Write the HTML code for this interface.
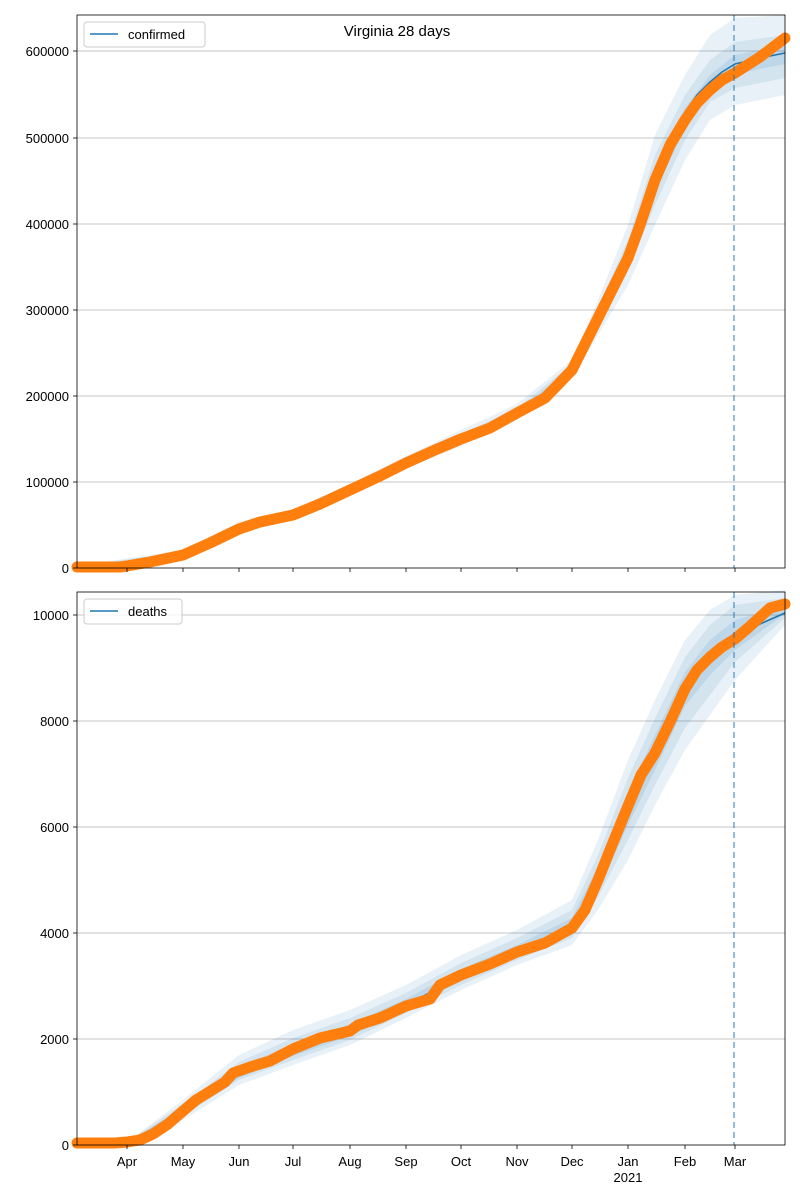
<!DOCTYPE html>
<html><head><meta charset="utf-8"><style>
body{margin:0;background:#fff}
svg{display:block;font-family:"Liberation Sans",sans-serif}
</style></head><body>
<svg width="800" height="1200" viewBox="0 0 800 1200" xmlns="http://www.w3.org/2000/svg">
<rect width="800" height="1200" fill="#fff"/>
<!-- TOP -->
<g stroke="#b0b0b0" stroke-width="0.8">
<line x1="77" x2="785" y1="482" y2="482"/><line x1="77" x2="785" y1="396" y2="396"/>
<line x1="77" x2="785" y1="310" y2="310"/><line x1="77" x2="785" y1="224" y2="224"/>
<line x1="77" x2="785" y1="138" y2="138"/><line x1="77" x2="785" y1="51" y2="51"/>
</g>
<polygon fill="#1f77b4" fill-opacity="0.1" points="77,566 183,550 239,522 293,509 350,484 406,456 461,430 517,404 572,360 598,300 628,225 655,135 685,75 710,35 735,18 785,15 785,95 735,105 710,120 685,160 655,225 628,285 598,335 572,378 517,420 461,446 406,468 350,495 293,520 239,532 183,560 77,568"/>
<polygon fill="#1f77b4" fill-opacity="0.1" points="77,566 183,552 239,524 293,511 350,486 406,459 461,434 517,408 572,364 598,307 628,240 655,155 685,95 710,60 735,42 785,35 785,78 735,88 710,102 685,140 655,205 628,270 598,326 572,374 517,417 461,443 406,466 350,493 293,518 239,530 183,558 77,568"/>
<polygon fill="#1f77b4" fill-opacity="0.12" points="77,566 183,554 239,526 293,513 350,488 406,461 461,437 517,411 572,367 598,313 628,250 655,168 685,108 710,75 735,55 785,45 785,64 735,74 710,90 685,128 655,192 628,262 598,321 572,372 517,415 461,441 406,464 350,491 293,516 239,528 183,556 77,568"/>
<polyline fill="none" stroke="#1f77b4" stroke-width="1.6" points="77,567 120,567 127,566 150,562 183,555 210,543 239,529 260,522 293,515 320,504 350,490 380,476 406,463 435,450 461,439 490,428 517,413 545,398 572,369 598,316 628,252 640,220 655,172 670,138 685,112 697,95 710,82 722,72 735,64 760,58 785,53"/>
<polyline fill="none" stroke="#ff7f0e" stroke-width="11" stroke-linecap="round" stroke-linejoin="round" points="77,567 120,567 127,566 150,562 183,555 210,543 239,529 260,522 293,515 320,504 350,490 380,476 406,463 435,450 461,439 490,428 517,413 545,398 572,370 598,318 628,258 640,225 655,180 670,145 685,120 697,103 710,90 722,80 735,73 760,57 785,38"/>
<line x1="734" x2="734" y1="15" y2="568" stroke="#1f77b4" stroke-opacity="0.6" stroke-width="1.6" stroke-dasharray="6,4"/>
<rect x="77" y="15" width="708" height="553" fill="none" stroke="#000" stroke-width="0.8"/>
<g font-size="13" text-anchor="end" fill="#000">
<text x="69" y="573">0</text><text x="69" y="487">100000</text><text x="69" y="401">200000</text>
<text x="69" y="315">300000</text><text x="69" y="229">400000</text><text x="69" y="143">500000</text><text x="69" y="56">600000</text>
</g>
<g stroke="#000" stroke-width="0.8">
<line x1="73" x2="77" y1="568" y2="568"/><line x1="73" x2="77" y1="482" y2="482"/><line x1="73" x2="77" y1="396" y2="396"/><line x1="73" x2="77" y1="310" y2="310"/><line x1="73" x2="77" y1="224" y2="224"/><line x1="73" x2="77" y1="138" y2="138"/><line x1="73" x2="77" y1="51" y2="51"/>
</g>
<text x="397" y="36" font-size="15" text-anchor="middle">Virginia 28 days</text>
<rect x="84" y="22" width="121" height="25" fill="#fff" fill-opacity="0.8" stroke="#ccc" rx="3"/>
<line x1="90" x2="118" y1="34" y2="34" stroke="#1f77b4" stroke-width="1.6"/>
<text x="128" y="39" font-size="13">confirmed</text>

<!-- BOTTOM -->
<g stroke="#b0b0b0" stroke-width="0.8">
<line x1="77" x2="785" y1="1039" y2="1039"/><line x1="77" x2="785" y1="933" y2="933"/>
<line x1="77" x2="785" y1="827" y2="827"/><line x1="77" x2="785" y1="721" y2="721"/><line x1="77" x2="785" y1="615" y2="615"/>
</g>
<polygon fill="#1f77b4" fill-opacity="0.1" points="77,1144 127,1142 183,1100 239,1055 293,1030 350,1010 406,985 461,955 517,930 572,900 598,840 628,760 655,700 685,640 710,610 735,595 785,590 785,625 735,680 710,715 685,750 655,805 628,860 598,910 572,945 517,965 461,990 406,1018 350,1045 293,1065 239,1085 183,1120 127,1144 77,1145"/>
<polygon fill="#1f77b4" fill-opacity="0.1" points="77,1144 127,1142 183,1104 239,1062 293,1038 350,1018 406,993 461,963 517,938 572,910 598,855 628,778 655,718 685,657 710,625 735,605 785,598 785,618 735,662 710,695 685,728 655,785 628,840 598,897 572,938 517,960 461,985 406,1013 350,1040 293,1060 239,1080 183,1116 127,1144 77,1145"/>
<polygon fill="#1f77b4" fill-opacity="0.12" points="77,1144 127,1143 183,1107 239,1067 293,1044 350,1024 406,999 461,969 517,945 572,918 598,866 628,792 655,735 685,672 710,640 735,620 785,606 785,614 735,650 710,675 685,706 655,770 628,825 598,890 572,935 517,957 461,980 406,1010 350,1036 293,1056 239,1078 183,1114 127,1144 77,1145"/>
<polyline fill="none" stroke="#1f77b4" stroke-width="1.6" points="77,1143 127,1142 153,1134 183,1111 209,1092 239,1073 293,1050 350,1031 406,1006 461,975 517,952 572,928 598,880 628,806 655,753 685,689 710,657 735,640 760,624 785,613"/>
<polyline fill="none" stroke="#ff7f0e" stroke-width="11" stroke-linecap="round" stroke-linejoin="round" points="77,1143 115,1143 127,1142 140,1140 153,1134 168,1124 183,1111 196,1100 209,1092 225,1082 233,1073 250,1067 270,1061 293,1049 320,1038 350,1031 358,1025 380,1018 406,1006 430,999 440,985 461,975 490,964 517,952 545,943 572,928 585,910 598,880 612,845 628,806 641,775 655,753 670,722 685,689 697,670 710,657 722,647 735,639 748,628 760,617 770,608 785,604"/>
<line x1="734" x2="734" y1="592" y2="1145" stroke="#1f77b4" stroke-opacity="0.6" stroke-width="1.6" stroke-dasharray="6,4"/>
<rect x="77" y="592" width="708" height="553" fill="none" stroke="#000" stroke-width="0.8"/>
<g font-size="13" text-anchor="end">
<text x="69" y="1150">0</text><text x="69" y="1044">2000</text><text x="69" y="938">4000</text>
<text x="69" y="832">6000</text><text x="69" y="726">8000</text><text x="69" y="620">10000</text>
</g>
<g stroke="#000" stroke-width="0.8">
<line x1="73" x2="77" y1="1145" y2="1145"/><line x1="73" x2="77" y1="1039" y2="1039"/><line x1="73" x2="77" y1="933" y2="933"/><line x1="73" x2="77" y1="827" y2="827"/><line x1="73" x2="77" y1="721" y2="721"/><line x1="73" x2="77" y1="615" y2="615"/>
</g>
<rect x="84" y="599" width="98" height="25" fill="#fff" fill-opacity="0.8" stroke="#ccc" rx="3"/>
<line x1="90" x2="118" y1="611" y2="611" stroke="#1f77b4" stroke-width="1.6"/>
<text x="128" y="616" font-size="13">deaths</text>

<!-- x ticks -->
<g stroke="#000" stroke-width="0.8">
<line x1="127" x2="127" y1="568" y2="572"/><line x1="183" x2="183" y1="568" y2="572"/><line x1="239" x2="239" y1="568" y2="572"/><line x1="293" x2="293" y1="568" y2="572"/><line x1="350" x2="350" y1="568" y2="572"/><line x1="406" x2="406" y1="568" y2="572"/><line x1="461" x2="461" y1="568" y2="572"/><line x1="517" x2="517" y1="568" y2="572"/><line x1="572" x2="572" y1="568" y2="572"/><line x1="628" x2="628" y1="568" y2="572"/><line x1="685" x2="685" y1="568" y2="572"/><line x1="735" x2="735" y1="568" y2="572"/>
<line x1="127" x2="127" y1="1145" y2="1149"/><line x1="183" x2="183" y1="1145" y2="1149"/><line x1="239" x2="239" y1="1145" y2="1149"/><line x1="293" x2="293" y1="1145" y2="1149"/><line x1="350" x2="350" y1="1145" y2="1149"/><line x1="406" x2="406" y1="1145" y2="1149"/><line x1="461" x2="461" y1="1145" y2="1149"/><line x1="517" x2="517" y1="1145" y2="1149"/><line x1="572" x2="572" y1="1145" y2="1149"/><line x1="628" x2="628" y1="1145" y2="1149"/><line x1="685" x2="685" y1="1145" y2="1149"/><line x1="735" x2="735" y1="1145" y2="1149"/>
</g>
<g font-size="13" text-anchor="middle">
<text x="127" y="1166">Apr</text><text x="183" y="1166">May</text><text x="239" y="1166">Jun</text><text x="293" y="1166">Jul</text><text x="350" y="1166">Aug</text><text x="406" y="1166">Sep</text><text x="461" y="1166">Oct</text><text x="517" y="1166">Nov</text><text x="572" y="1166">Dec</text><text x="628" y="1166">Jan</text><text x="685" y="1166">Feb</text><text x="735" y="1166">Mar</text>
<text x="628" y="1182">2021</text>
</g>
</svg>
</body></html>
